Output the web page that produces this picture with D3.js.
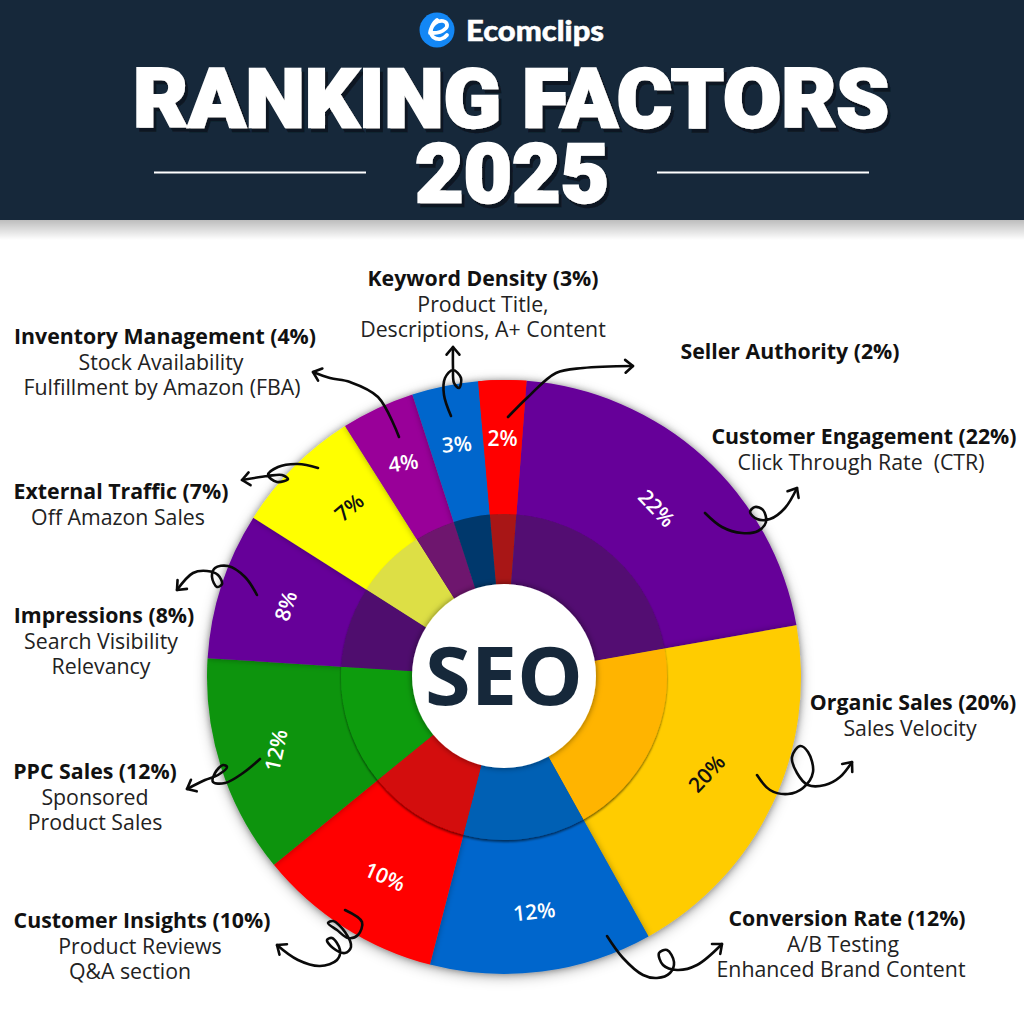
<!DOCTYPE html>
<html><head><meta charset="utf-8">
<script src="https://cdn.jsdelivr.net/npm/d3@7"></script>
<style>html,body{margin:0;padding:0;background:#fff}svg{display:block}</style></head>
<body><svg id="c" width="1024" height="1024" viewBox="0 0 1024 1024"></svg>
<script>
// ---------- data ----------
const factors = ["Seller Authority","Customer Engagement","Organic Sales","Conversion Rate","Customer Insights","PPC Sales","Impressions","External Traffic","Inventory Management","Keyword Density"];
const percents = [2,22,20,12,10,12,8,7,4,3];
// share of the circle each slice really occupies in the picture (they differ a little from the printed figure)
const drawnShares = [2.6,21,19.7,12.1,10.1,11.9,8,7,4,3.6];
const details = [[],["Click Through Rate  (CTR)"],["Sales Velocity"],["A/B Testing","Enhanced Brand Content"],["Product Reviews","Q&A section"],["Sponsored","Product Sales"],["Search Visibility","Relevancy"],["Off Amazon Sales"],["Stock Availability","Fulfillment by Amazon (FBA)"],["Product Title,","Descriptions, A+ Content"]];
const outerColors = ["#ff0000","#660099","#ffcc00","#0066cc","#ff0000","#099409","#660099","#ffff00","#990099","#0066cc"];
const innerColors = ["#a81515","#530b72","#ffb400","#0560b4","#d30808","#0f9c10","#4f0f6e","#dddf44","#6e126e","#04386c"];
const labelInk = ["#fff","#fff","#111","#fff","#fff","#fff","#fff","#111","#fff","#fff"];
const titleLine1 = "RANKING FACTORS", titleLine2 = "2025", brand = "Ecomclips", centre = "SEO";

// ---------- layout (annotation placement, not data) ----------
const cx=504, cy=677, R=297, Rmid=163, Rhole=92;
const labelRadius=[239,228,224,236,232,240,230,230,237,238];
const labelTurn=[0,0,0,0,-1.8,0,0,2.6,0,0];
const labelTilt=[0,47,-47,-6,24,-78,-72,-40,-8,-4];
const blocks=[ // centre x of each line, first baseline
 {x:[790],y:359},{x:[864,861],y:444},{x:[913,910],y:710},{x:[847,843,841],y:926},{x:[142,140,130],y:928},
 {x:[95,95,95],y:779},{x:[104,101,101],y:623},{x:[121,118],y:499},{x:[165,161,162],y:344},{x:[483,483,483],y:286}];
const arrows=[
 [[508,417],[528,397],[556,373],[583,368],[633,366]],
 [[705,513],[722,527],[742,533],[758,531],[766,522],[763,510],[755,507],[750,512],[757,519],[770,519],[785,508],[797,488]],
 [[757,775],[770,790],[788,794],[803,788],[813,772],[808,752],[800,746],[792,757],[797,773],[808,785],[825,785],[840,777],[852,762]],
 [[607,936],[623,958],[643,975],[657,978],[670,973],[674,962],[667,950],[659,953],[663,965],[677,970],[697,965],[722,944]],
 [[345,910],[362,922],[358,935],[348,938],[337,930],[328,923],[333,921],[345,932],[351,947],[345,953],[333,948],[327,940],[332,938],[340,950],[337,960],[320,966],[298,960],[277,945]],
 [[260,759],[243,773],[225,783],[213,782],[215,773],[223,765],[227,767],[218,775],[205,780],[187,789]],
 [[257,595],[245,577],[228,566],[215,568],[212,577],[217,587],[222,584],[218,575],[207,571],[193,573],[177,590]],
 [[318,468],[298,464],[278,467],[268,475],[277,482],[288,479],[282,475],[268,476],[242,480]],
 [[399,437],[378,397],[350,382],[330,378],[313,372]],
 [[451,416],[444,395],[445,378],[453,370],[461,378],[459,388],[454,383],[453,368],[453,347]]
];

const svg=d3.select("#c"), defs=svg.append("defs");
const shadow=(id,dx,dy,b,c,o)=>defs.append("filter").attr("id",id).attr("x","-30%").attr("y","-30%").attr("width","160%").attr("height","160%")
  .append("feDropShadow").attr("dx",dx).attr("dy",dy).attr("stdDeviation",b).attr("flood-color",c).attr("flood-opacity",o);
shadow("pieS",0,3,7,"#000",.36); shadow("sliceS",0,0,3,"#000",.33); shadow("ringS",0,2,1.2,"#000",.55); shadow("holeS",0,0,3,"#000",.5);
shadow("titleS",3,4,0,"#0a1622",1);
const g0=defs.append("linearGradient").attr("id","hs").attr("x1",0).attr("x2",0).attr("y1",0).attr("y2",1);
g0.append("stop").attr("offset",0).attr("stop-color","#000").attr("stop-opacity",.26);
g0.append("stop").attr("offset",1).attr("stop-color","#000").attr("stop-opacity",0);

// header
svg.append("rect").attr("y",220).attr("width",1024).attr("height",20).attr("fill","url(#hs)");
svg.append("rect").attr("width",1024).attr("height",220).attr("fill","#16283a");
[[154,366],[657,869]].forEach(([a,b])=>svg.append("line").attr("x1",a).attr("x2",b).attr("y1",172.5).attr("y2",172.5).attr("stroke","#fff").attr("stroke-width",2));
const title=(t,x,y,w,fs)=>svg.append("text").text(t).attr("x",x).attr("y",y)
   .attr("font-family","Roboto").attr("font-weight",900).attr("font-size",fs).attr("fill","#fff").attr("stroke","#fff").attr("stroke-width",2.4)
   .attr("textLength",w).attr("lengthAdjust","spacingAndGlyphs").attr("filter","url(#titleS)");
title(titleLine1,133,127,756,81); title(titleLine2,415,202,194,81);
// logo
svg.append("circle").attr("cx",437).attr("cy",30).attr("r",17.5).attr("fill","#1387f5");
svg.append("path").attr("d","M430 33c1-8 7-13 13-12 5 1 5 6 2 8-3 3-8 4-12 4M437 20c-6 5-8 13-4 17 5 4 11 2 14-2").attr("fill","none").attr("stroke","#fff").attr("stroke-width",3.8).attr("stroke-linecap","round");
svg.append("text").text(brand).attr("x",466).attr("y",41).attr("font-family","Lato").attr("font-weight",900).attr("font-size",28.5).attr("fill","#fff").attr("stroke","#fff").attr("stroke-width",.5).attr("textLength",138).attr("lengthAdjust","spacingAndGlyphs");

// pie
const rad=d=>d*Math.PI/180;
const pie=d3.pie().sort(null).startAngle(rad(-5)).endAngle(rad(355));
const arcsData=pie(drawnShares);
const outerArc=d3.arc().innerRadius(Rmid-4).outerRadius(R), innerArc=d3.arc().innerRadius(Rhole-2).outerRadius(Rmid);
const P=svg.append("g").attr("transform",`translate(${cx},${cy})`);
P.append("circle").attr("r",R-1).attr("fill","#888").attr("filter","url(#pieS)");
// each slice casts a soft shadow onto the previous one
const outerG=P.append("g");
arcsData.forEach((a,i)=>outerG.append("path").attr("d",outerArc(a)).attr("fill",outerColors[i]).attr("filter","url(#sliceS)"));
outerG.append("path").attr("d",outerArc(arcsData[0])).attr("fill",outerColors[0]);
const innerG=P.append("g").attr("filter","url(#ringS)");
arcsData.forEach((a,i)=>innerG.append("path").attr("d",innerArc(a)).attr("fill",innerColors[i]));
P.append("circle").attr("r",Rhole).attr("cy",-1).attr("fill","#fff").attr("filter","url(#holeS)");
P.append("text").text(centre).attr("y",28).attr("text-anchor","middle").attr("font-family","Open Sans").attr("font-weight",700).attr("font-size",80).attr("fill","#16283a").attr("textLength",158).attr("lengthAdjust","spacingAndGlyphs");

// percentage labels
arcsData.forEach((a,i)=>{
  const m=(a.startAngle+a.endAngle)/2+rad(labelTurn[i]), x=Math.sin(m)*labelRadius[i], y=-Math.cos(m)*labelRadius[i];
  P.append("text").text(percents[i]+"%").attr("transform",`translate(${x},${y}) rotate(${labelTilt[i]})`)
   .attr("text-anchor","middle").attr("dominant-baseline","central").attr("font-family","Open Sans").attr("font-weight",600).attr("font-size",21).attr("fill",labelInk[i]);
});

// callouts
factors.forEach((f,i)=>{
  const b=blocks[i];
  svg.append("text").text(`${f} (${percents[i]}%)`).attr("x",b.x[0]).attr("y",b.y).attr("text-anchor","middle")
    .attr("font-family","Open Sans").attr("font-weight",700).attr("font-size",21.3).attr("fill","#111");
  details[i].forEach((t,j)=>svg.append("text").text(t).attr("x",b.x[j+1]).attr("y",b.y+(j+1)*25.6).attr("text-anchor","middle").attr("xml:space","preserve")
    .attr("font-family","Open Sans").attr("font-size",21.3).attr("fill","#222"));
});
const line=d3.line().curve(d3.curveCatmullRom.alpha(.5));
arrows.forEach(p=>{
  const g=svg.append("g").attr("fill","none").attr("stroke","#0a0a0a").attr("stroke-width",2.6).attr("stroke-linecap","round").attr("stroke-linejoin","round");
  g.append("path").attr("d",line(p));
  const t=p[p.length-1], q=p[p.length-2], an=Math.atan2(t[1]-q[1],t[0]-q[0]), L=10, s=.7;
  g.append("path").attr("d",d3.line()([[t[0]-L*Math.cos(an-s),t[1]-L*Math.sin(an-s)],t,[t[0]-L*Math.cos(an+s),t[1]-L*Math.sin(an+s)]]));
});
</script></body></html>
